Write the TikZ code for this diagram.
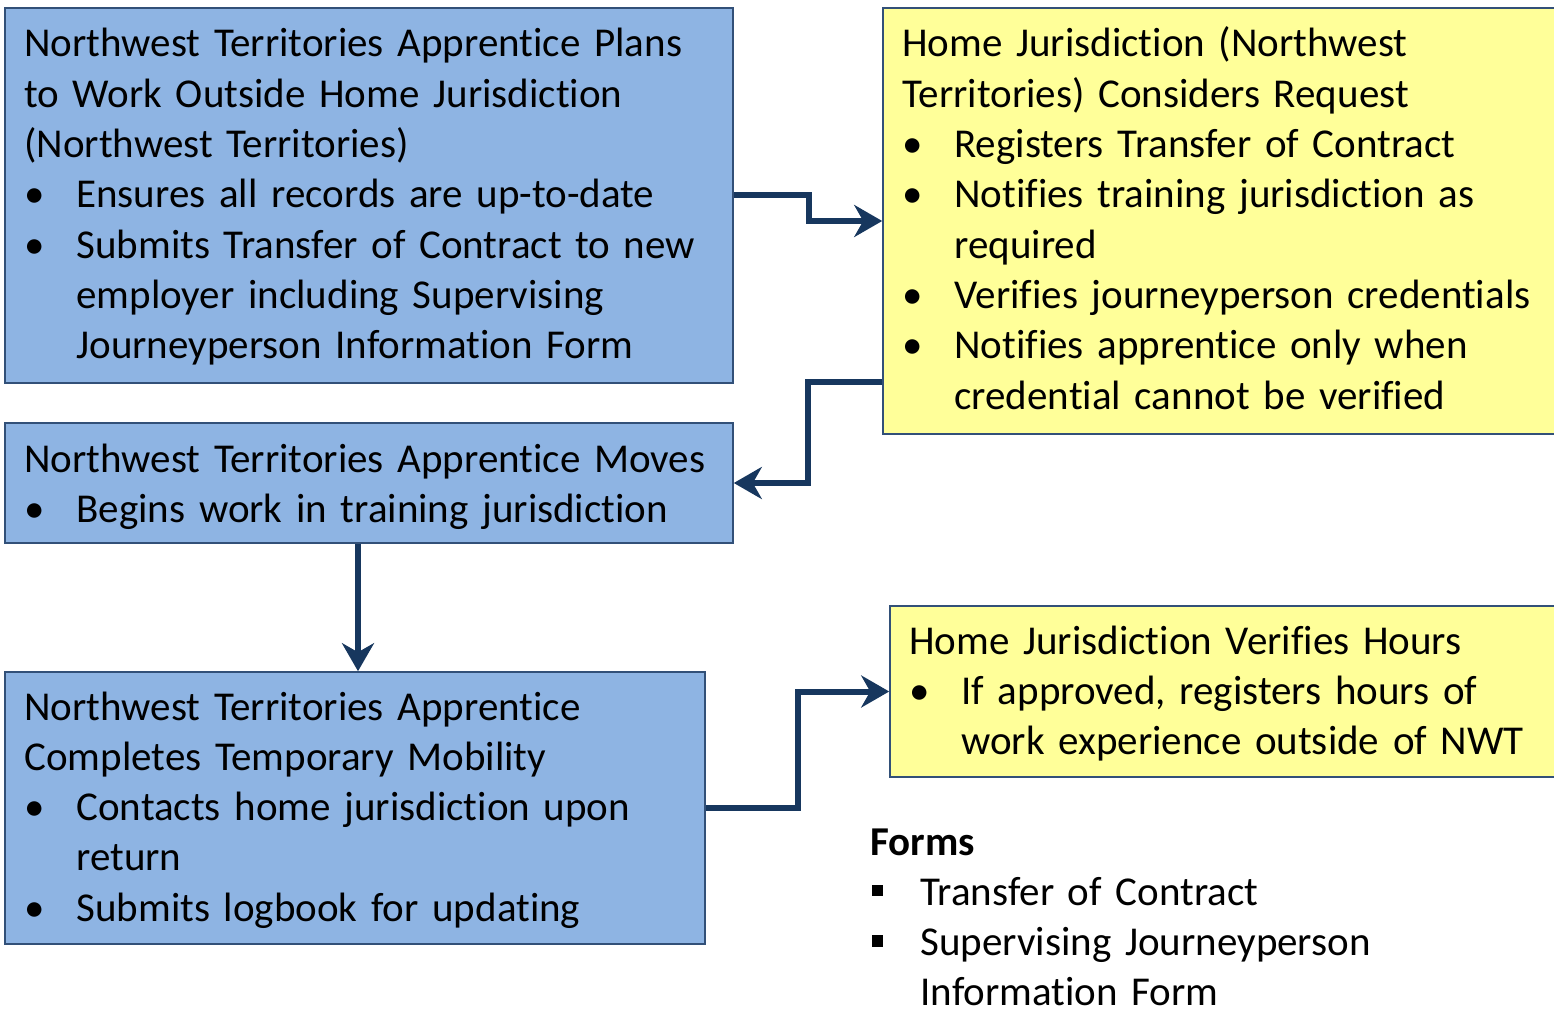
\documentclass[tikz,border=0pt]{standalone}
\usepackage{fontspec}
\setmainfont[Ligatures=NoCommon]{Carlito}
\usetikzlibrary{arrows.meta,fit}
\definecolor{boxblue}{RGB}{142,180,227}
\definecolor{boxyellow}{RGB}{255,255,153}
\definecolor{edgeblue}{RGB}{50,80,120}
\definecolor{flowblue}{RGB}{23,55,94}
\tikzstyle{bluebox} = [draw=edgeblue,line width=0.8pt,fill=boxblue,inner sep=0pt]
\tikzstyle{yellowbox} = [draw=edgeblue,line width=0.8pt,fill=boxyellow,inner sep=0pt]
\tikzstyle{txt} = [anchor=base west,inner sep=0pt,text width=420pt,align=left,font=\fontsize{20.5}{25.15}\selectfont]
\tikzstyle{arrow} = [line width=3pt,draw=flowblue,-{Stealth[length=14pt,width=16pt,inset=4.5pt]}]
\newcommand{\bul}{\makebox[26pt][l]{\textbullet}}
\newcommand{\ind}{\hspace*{26pt}}
\newcommand{\sqbul}{\makebox[25pt][l]{\hspace{1pt}\rule[4.5pt]{5.5pt}{5.8pt}}}

\begin{document}
\begin{tikzpicture}[x=0.5pt,y=-0.5pt]
	\useasboundingbox (0,0) rectangle (1554,1011);
	% boxes
	\node [bluebox,fit={(5,8) (733,383)}] (plans) {};
	\node [yellowbox,fit={(883,8) (1560,434)}] (considers) {};
	\node [bluebox,fit={(5,423) (733,543)}] (moves) {};
	\node [bluebox,fit={(5,672) (705,944)}] (completes) {};
	\node [yellowbox,fit={(890,606) (1560,777)}] (verifies) {};
	% texts
	\node [txt] (plansT) at (24,57) {Northwest Territories Apprentice Plans\\
		to Work Outside Home Jurisdiction\\
		(Northwest Territories)\\
		\bul Ensures all records are up-to-date\\
		\bul Submits Transfer of Contract to new\\
		\ind employer including Supervising\\
		\ind Journeyperson Information Form};
	\node [txt] (considersT) at (902,57) {Home Jurisdiction (Northwest\\
		Territories) Considers Request\\
		\bul Registers Transfer of Contract\\
		\bul Notifies training jurisdiction as\\
		\ind required\\
		\bul Verifies journeyperson credentials\\
		\bul Notifies apprentice only when\\
		\ind credential cannot be verified};
	\node [txt] (movesT) at (24,472) {Northwest Territories Apprentice Moves\\
		\bul Begins work in training jurisdiction};
	\node [txt] (completesT) at (24,720) {Northwest Territories Apprentice\\
		Completes Temporary Mobility\\
		\bul Contacts home jurisdiction upon\\
		\ind return\\
		\bul Submits logbook for updating};
	\node [txt] (verifiesT) at (909,654) {Home Jurisdiction Verifies Hours\\
		\bul If approved, registers hours of\\
		\ind work experience outside of NWT};
	\node [txt] (forms) at (870,855) {\textbf{Forms}\\
		\sqbul Transfer of Contract\\
		\sqbul Supervising Journeyperson\\
		\hspace*{25pt}Information Form};
	% connectors
	\draw [arrow] (plans.east) -- ++(75,0) |- (considers.west);
	\draw [arrow] (considers.west |- 0,382) -- (808,382) |- (moves.east);
	\draw [arrow] (moves.south -| 358,0) -- (completes.north -| 358,0);
	\draw [arrow] (completes.east) -- ++(92,0) |- (verifies.west);
\end{tikzpicture}
\end{document}
